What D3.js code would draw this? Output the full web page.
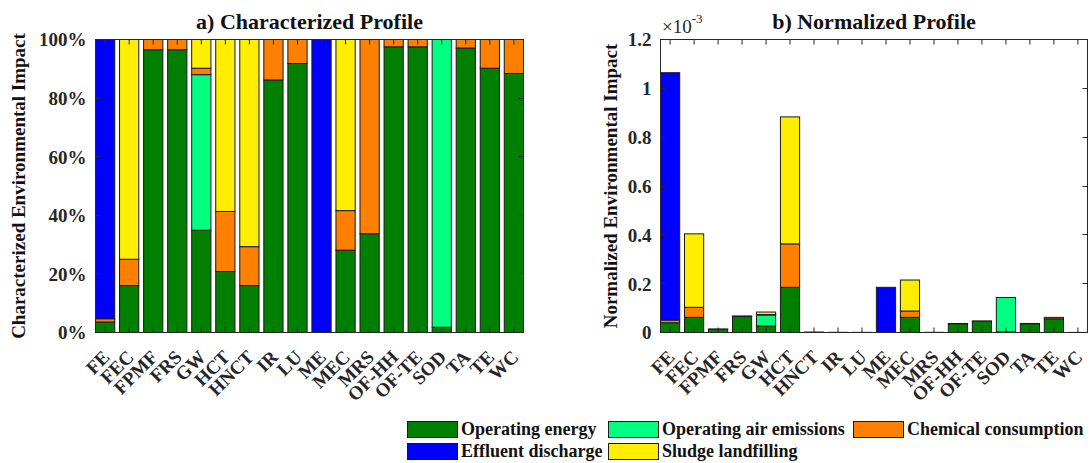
<!DOCTYPE html>
<html>
<head>
<meta charset="utf-8">
<script src="https://cdn.jsdelivr.net/npm/d3@7"></script>
<style>
  body { margin: 0; background: #fff; }
  svg { display: block; }
  text { font-family: "Liberation Serif", "Times New Roman", serif; font-weight: bold; fill: #111; }
</style>
</head>
<body>
<svg id="chart" width="1091" height="463"></svg>
<script>
// Impact categories (x axis, both panels)
const categories = ["FE","FEC","FPMF","FRS","GW","HCT","HNCT","IR","LU","ME","MEC","MRS","OF-HH","OF-TE","SOD","TA","TE","WC"];

// Contributing processes, stacked bottom to top
const seriesNames  = ["Operating energy","Operating air emissions","Chemical consumption","Effluent discharge","Sludge landfilling"];
const seriesColors = ["#007f00","#00ff80","#ff7f00","#0000ff","#ffee00"];

// a) Characterized profile: share of each process, %
const charEnergy   = [3.6, 16.0, 96.5, 96.5, 34.9, 20.8, 16.0, 86.2, 91.8, 0, 28.1, 33.7, 97.5, 97.5, 1.8, 97.1, 90.2, 88.4];
const charAir      = [0, 0, 0, 0, 53.1, 0, 0, 0, 0, 0, 0, 0, 0, 0, 98.2, 0, 0, 0];
const charChemical = [1.1, 9.0, 3.5, 3.5, 2.2, 20.5, 13.3, 13.8, 8.2, 0, 13.5, 66.3, 2.5, 2.5, 0, 2.9, 9.8, 11.6];
const charEffluent = [95.3, 0, 0, 0, 0, 0, 0, 0, 0, 100, 0, 0, 0, 0, 0, 0, 0, 0];
const charSludge   = [0, 75.0, 0, 0, 9.8, 58.7, 70.7, 0, 0, 0, 58.4, 0, 0, 0, 0, 0, 0, 0];

// b) Normalized profile, in units of 10^-3
const normEnergy   = [0.040, 0.062, 0.0135, 0.0655, 0.027, 0.185, 0.0003, 0.0004, 0.0003, 0, 0.062, 0.0002, 0.036, 0.046, 0.0025, 0.036, 0.056, 0.0002];
const normAir      = [0, 0, 0, 0, 0.045, 0, 0, 0, 0, 0, 0, 0, 0, 0, 0.141, 0, 0, 0];
const normChemical = [0.011, 0.041, 0.0005, 0.0023, 0.0018, 0.178, 0.0002, 0.00006, 0.00003, 0, 0.026, 0.0004, 0.0009, 0.0012, 0, 0.0011, 0.006, 0.00003];
const normEffluent = [1.013, 0, 0, 0, 0, 0, 0, 0, 0, 0.185, 0, 0, 0, 0, 0, 0, 0, 0];
const normSludge   = [0, 0.301, 0, 0, 0.010, 0.520, 0.0009, 0, 0, 0, 0.127, 0, 0, 0, 0, 0, 0, 0];

// Axis ticks
const percentTicks = [0, 20, 40, 60, 80, 100];
const normTicks    = [0, 0.2, 0.4, 0.6, 0.8, 1, 1.2];

const svg = d3.select("#chart");
const axisColor = "#262626";
const tickLen = 5;

function buildRows(cols) {
  return categories.map((c, i) => {
    const row = { cat: c };
    seriesNames.forEach((s, k) => { row[s] = cols[k][i]; });
    return row;
  });
}

function panel(opts) {
  const { left, right, top, bottom, rows, yMax, yTicks, yFormat, title, yLabel, yLabelX } = opts;
  const g = svg.append("g");

  const x = d3.scaleBand().domain(categories).range([left, right])
    .paddingInner(0.2).paddingOuter(0);
  const y = d3.scaleLinear().domain([0, yMax]).range([bottom, top]);

  const stacked = d3.stack().keys(seriesNames)(rows);

  // stacked bars
  g.append("g").selectAll("g").data(stacked).join("g")
    .attr("fill", (d, k) => seriesColors[k])
    .selectAll("rect")
    .data(d => d.filter(p => p[1] - p[0] > 0))
    .join("rect")
      .attr("x", p => x(p.data.cat))
      .attr("width", x.bandwidth())
      .attr("y", p => y(p[1]))
      .attr("height", p => y(p[0]) - y(p[1]))
      .attr("stroke", "#1a1a1a")
      .attr("stroke-width", 1);

  // box and inward ticks on all four sides
  g.append("rect")
    .attr("x", left).attr("y", top)
    .attr("width", right - left).attr("height", bottom - top)
    .attr("fill", "none").attr("stroke", axisColor).attr("stroke-width", 1);

  const ticks = g.append("g").attr("stroke", axisColor).attr("stroke-width", 1);
  yTicks.forEach(t => {
    const yy = Math.round(y(t) - 0.5) + 0.5;
    ticks.append("line").attr("x1", left).attr("x2", left + tickLen).attr("y1", yy).attr("y2", yy);
    ticks.append("line").attr("x1", right).attr("x2", right - tickLen).attr("y1", yy).attr("y2", yy);
  });
  categories.forEach(c => {
    const xx = x(c) + x.bandwidth() / 2;
    ticks.append("line").attr("x1", xx).attr("x2", xx).attr("y1", bottom).attr("y2", bottom - tickLen);
    ticks.append("line").attr("x1", xx).attr("x2", xx).attr("y1", top).attr("y2", top + tickLen);
  });

  // y tick labels
  g.append("g").selectAll("text").data(yTicks).join("text")
    .attr("x", left - 9)
    .attr("y", d => y(d))
    .attr("dy", "0.36em")
    .attr("text-anchor", "end")
    .style("font-size", "19px")
    .style("fill", axisColor)
    .text(yFormat);

  // rotated category labels
  g.append("g").selectAll("text").data(categories).join("text")
    .attr("transform", c => `translate(${x(c) + x.bandwidth() / 2 + 1},${bottom + 21}) rotate(-45)`)
    .attr("dy", "0.35em")
    .attr("text-anchor", "end")
    .style("font-size", "19px")
    .style("fill", axisColor)
    .text(c => c);

  // title
  g.append("text")
    .attr("x", (left + right) / 2).attr("y", 29)
    .attr("text-anchor", "middle")
    .style("font-size", "22px")
    .text(title);

  // y axis label
  g.append("text")
    .attr("transform", `translate(${yLabelX},${(top + bottom) / 2}) rotate(-90)`)
    .attr("text-anchor", "middle")
    .style("font-size", "19px")
    .text(yLabel);

  return { x, y, g };
}

panel({
  left: 95.5, right: 523.5, top: 39.5, bottom: 332.5,
  rows: buildRows([charEnergy, charAir, charChemical, charEffluent, charSludge]),
  yMax: 100, yTicks: percentTicks, yFormat: d => d + "%",
  title: "a) Characterized Profile",
  yLabel: "Characterized Environmental Impact", yLabelX: 25
});

const right = panel({
  left: 660.5, right: 1087.5, top: 39.5, bottom: 332.5,
  rows: buildRows([normEnergy, normAir, normChemical, normEffluent, normSludge]),
  yMax: 1.2, yTicks: normTicks, yFormat: d => d3.format("~g")(d),
  title: "b) Normalized Profile",
  yLabel: "Normalized Environmental Impact", yLabelX: 617
});

// axis exponent ×10^-3
const expo = right.g.append("text").attr("x", 662).attr("y", 33)
  .style("font-weight", "normal").style("font-size", "19px").style("fill", axisColor);
expo.append("tspan").text("\u00d710");
expo.append("tspan").attr("dy", -10).style("font-size", "13px").text("-3");

// legend: three columns, two rows
const legendCols = [407, 608, 853];
const legendRows = [421, 443];
const legend = svg.append("g");
seriesNames.forEach((name, k) => {
  const cx = legendCols[k % 3];
  const cy = legendRows[Math.floor(k / 3)];
  legend.append("rect")
    .attr("x", cx + 0.5).attr("y", cy + 0.5).attr("width", 50).attr("height", 16)
    .attr("fill", seriesColors[k]).attr("stroke", "#1a1a1a").attr("stroke-width", 1);
  legend.append("text")
    .attr("x", cx + 54).attr("y", cy + 8).attr("dy", "0.36em")
    .style("font-size", "18px")
    .text(name);
});
</script>
</body>
</html>
